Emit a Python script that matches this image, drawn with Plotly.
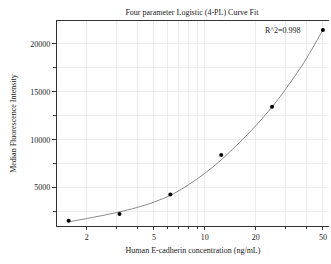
import plotly.graph_objects as go

# measured data points
conc = [1.5625, 3.125, 6.25, 12.5, 25, 50]
mfi = [1560, 2240, 4300, 8400, 13450, 21450]

# fitted curve
curve_x = [1.5625, 2, 3, 4, 5, 6.25, 8, 10, 12.5, 16, 20, 25, 30, 35, 40, 50]
curve_y = [1430, 1780, 2400, 2950, 3500, 4200, 5300, 6500, 7900, 9700, 11450, 13430, 15250, 16950, 18500, 21480]

x_labels = [2, 5, 10, 20, 50]
x_minor = [2, 3, 4, 5, 6, 7, 8, 9, 10, 20, 30, 40, 50]
y_ticks = [5000, 10000, 15000, 20000]
y_minor = [2500, 7500, 12500, 17500]

FONT = "Liberation Serif"
TXT = "#1a1a1a"

fig = go.Figure()
fig.add_trace(go.Scatter(x=curve_x, y=curve_y, mode="lines",
                         line=dict(color="#8a8a8a", width=1, shape="spline", smoothing=1.0),
                         showlegend=False, hoverinfo="skip"))
fig.add_trace(go.Scatter(x=conc, y=mfi, mode="markers",
                         marker=dict(color="black", size=4),
                         showlegend=False, cliponaxis=False))

fig.add_annotation(x=0.905, y=0.985, xref="paper", yref="paper",
                   text="R^2=0.998", showarrow=False, xanchor="right", yanchor="top",
                   font=dict(family=FONT, size=8, color=TXT))

fig.update_layout(
    width=331, height=264,
    margin=dict(l=57, r=2, t=21, b=38),
    paper_bgcolor="white", plot_bgcolor="white",
    title=dict(text="Four parameter Logistic (4-PL) Curve Fit", x=0.58, xanchor="center",
               y=0.955, yanchor="middle", font=dict(family=FONT, size=8, color=TXT)),
    font=dict(family=FONT, size=8, color=TXT),
)

fig.update_xaxes(
    type="log", range=[0.125, 1.735], automargin=False,
    tickmode="array", tickvals=x_labels, ticktext=[str(v) for v in x_labels],
    ticks="outside", ticklen=3, tickcolor="#333", tickwidth=1,
    showline=True, linecolor="#333", linewidth=1.2, mirror=True,
    showgrid=True, gridcolor="#ececec", gridwidth=1,
    minor=dict(tickmode="array", tickvals=x_minor, ticks="outside", ticklen=2,
               tickcolor="#333", showgrid=True, gridcolor="#ececec"),
    zeroline=False,
    title=dict(text="Human E-cadherin concentration (ng/mL)", font=dict(family=FONT, size=8, color=TXT), standoff=6),
    tickfont=dict(family=FONT, size=8, color=TXT),
)
fig.update_yaxes(
    range=[1000, 22400], automargin=False,
    tickmode="array", tickvals=y_ticks, ticktext=[str(v) for v in y_ticks],
    ticks="outside", ticklen=4, tickcolor="#333", tickwidth=1,
    showline=True, linecolor="#333", linewidth=1.2,
    showgrid=True, gridcolor="#ececec", gridwidth=1,
    minor=dict(tickmode="array", tickvals=y_minor, ticks="outside", ticklen=3,
               tickcolor="#333", showgrid=True, gridcolor="#ececec"),
    zeroline=False,
    title=dict(text="Median Fluorescence Intensity", font=dict(family=FONT, size=8, color=TXT), standoff=12),
    tickfont=dict(family=FONT, size=8, color=TXT),
)

fig.write_html("out.html", config={"displayModeBar": False},
               post_script="document.body.style.margin='0';document.body.style.overflow='hidden';")
